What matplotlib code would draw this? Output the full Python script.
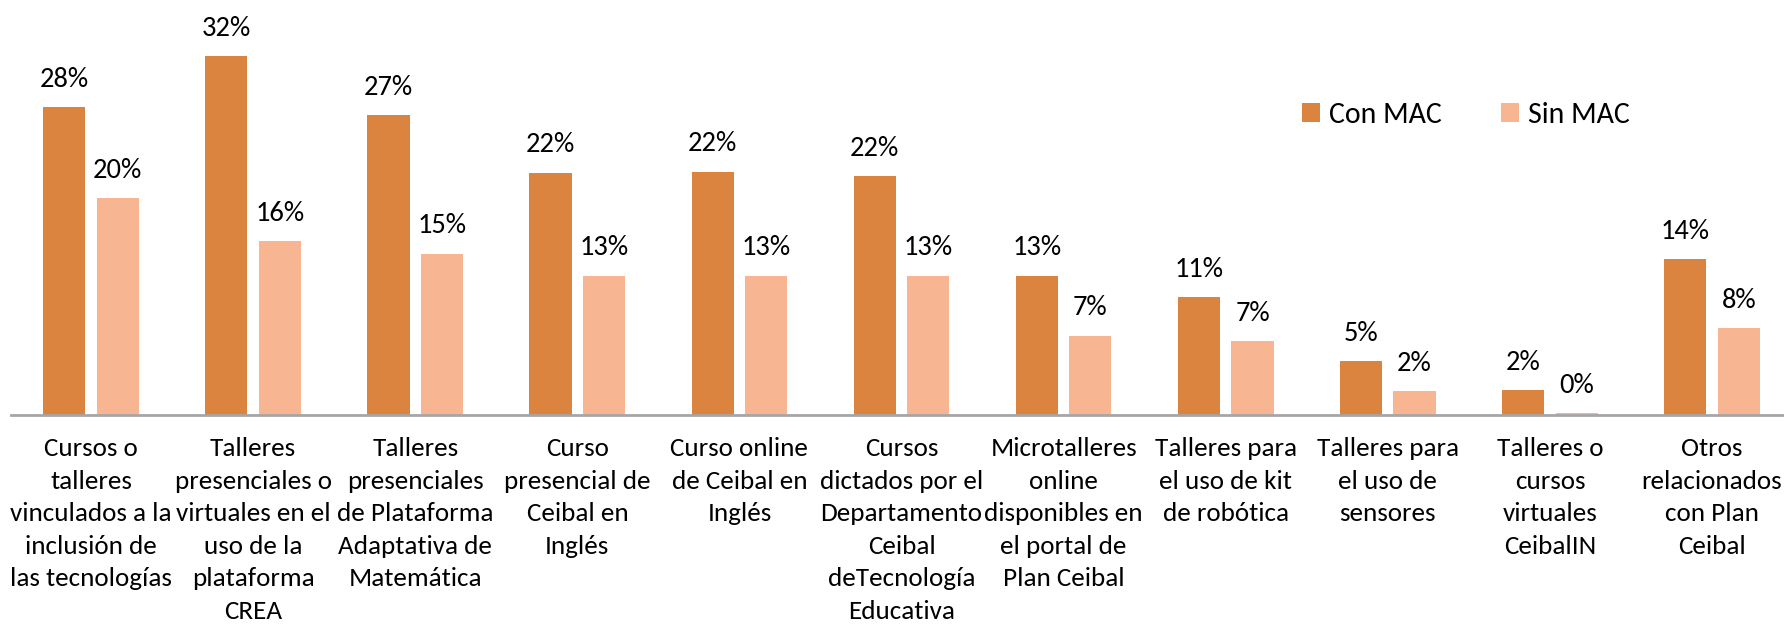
import numpy as np
import matplotlib.pyplot as plt

plt.rcParams['font.family'] = ['Carlito', 'Lato', 'DejaVu Sans']

# data
categories = [
    "Cursos o\ntalleres\nvinculados a la\ninclusión de\nlas tecnologías",
    "Talleres\npresenciales o\nvirtuales en el\nuso de la\nplataforma\nCREA",
    "Talleres\npresenciales\nde Plataforma\nAdaptativa de\nMatemática",
    "Curso\npresencial de\nCeibal en\nInglés",
    "Curso online\nde Ceibal en\nInglés",
    "Cursos\ndictados por el\nDepartamento\nCeibal\ndeTecnología\nEducativa",
    "Microtalleres\nonline\ndisponibles en\nel portal de\nPlan Ceibal",
    "Talleres para\nel uso de kit\nde robótica",
    "Talleres para\nel uso de\nsensores",
    "Talleres o\ncursos\nvirtuales\nCeibalIN",
    "Otros\nrelacionados\ncon Plan\nCeibal",
]
con_mac = [27.8, 32.4, 27.1, 21.9, 22.0, 21.6, 12.6, 10.7, 4.9, 2.3, 14.1]
sin_mac = [19.6, 15.7, 14.6, 12.6, 12.6, 12.6, 7.2, 6.7, 2.2, 0.2, 7.9]

c_con = '#DA843F'
c_sin = '#F8B592'

fig = plt.figure(figsize=(17.84, 6.24), dpi=100)
ax = fig.add_axes([0.0064, 0.3345, 0.9936, 0.6655])

x = np.arange(len(categories))
w = 0.26
off = 0.165
b1 = ax.bar(x - off, con_mac, w, color=c_con, label='Con MAC')
b2 = ax.bar(x + off, sin_mac, w, color=c_sin, label='Sin MAC')

# value labels above the bars
for bars, vals in [(b1, con_mac), (b2, sin_mac)]:
    for b, v in zip(bars, vals):
        ax.annotate(f'{round(v)}%', (b.get_x() + b.get_width() / 2, v),
                    xytext=(0, 11), textcoords='offset points',
                    ha='center', va='bottom', fontsize=20.5)

ax.set_xlim(-0.491, 10.444)
ax.set_ylim(0, 37.5)
ax.set_xticks(x)
ax.set_xticklabels(categories, fontsize=19.5, linespacing=1.5)
ax.tick_params(axis='x', length=0, pad=16)
ax.set_yticks([])
for s in ['top', 'right', 'left']:
    ax.spines[s].set_visible(False)
ax.spines['bottom'].set_color('#A6A6A6')
ax.spines['bottom'].set_linewidth(2)

ax.legend(loc='center', bbox_to_anchor=(0.8217, 0.816), bbox_transform=fig.transFigure,
          ncol=2, frameon=False, fontsize=21.5, handlelength=0.6, handleheight=0.6,
          handletextpad=0.3, columnspacing=2.0, borderpad=0, borderaxespad=0)

fig.savefig('out.png', dpi=100)
